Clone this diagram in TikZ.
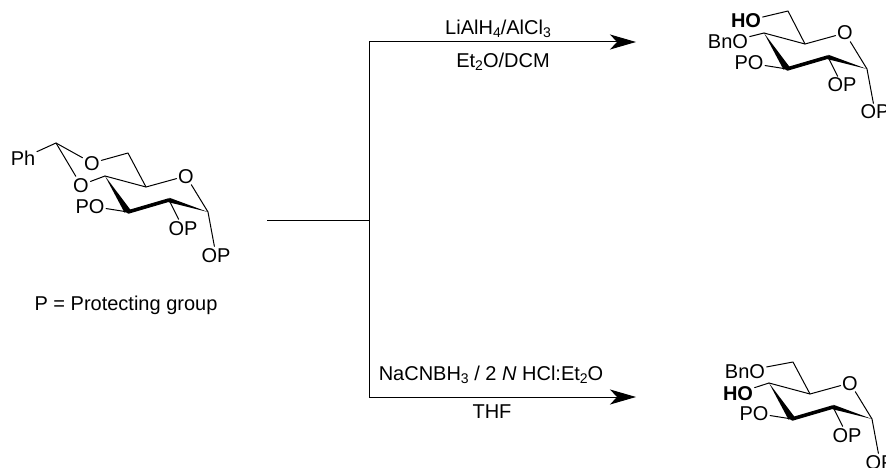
\documentclass[tikz,border=0pt]{standalone}
\usepackage{fontspec}
\setmainfont{Liberation Sans}
\usetikzlibrary{arrows.meta}
\newcommand{\sbs}[1]{\raisebox{-3.5pt}{\fontsize{14}{14}\selectfont #1}}
\tikzset{
  x=1pt,y=-1pt,
  atom/.style={font=\fontsize{20}{22}\selectfont,inner sep=1.5pt,text height=14pt,text depth=0pt},
  txt/.style={font=\fontsize{20}{24}\selectfont,inner sep=0pt},
  bond/.style={line width=1pt,line cap=round,line join=round},
  wedge/.style={fill=black,draw=black,line width=0.3pt,line join=round},
  rxn/.style={line width=1pt},
  rxnarrow/.style={line width=1pt,-{Stealth[length=26pt,width=15pt,inset=7pt]}},
  pics/ring/.style={code={
    \coordinate (-c4) at (0,0);
    \coordinate (-c5) at (41,11);
    \node[atom] (-o) at (81,0) {O};
    \coordinate (-c1) at (103,36);
    \coordinate (-c2) at (64,24);
    \coordinate (-c3) at (23,36);
    \node[atom] (-po) at (-15,30) {PO};
    \node[atom] (-op) at (78,52) {OP};
    \node[atom] (-opa) at (111,79) {OP};
    \draw[bond] (-c4) -- (-c5) -- (-o) -- (-c1) -- (-opa);
    \draw[bond] (-c2) -- (-op);
    \draw[bond] (-c3) -- (-po);
    \fill[black] (-c4) -- ($(-c3)+(-3.5,0.6)$) -- ($(-c3)+(3,-1.5)$) -- cycle;
    \draw[line width=3.6pt,line cap=round] (-c3) -- (-c2);
    \fill[black] ($(-c2)+(0.5,-2.2)$) -- (-c1) -- ($(-c2)+(-0.5,2.2)$) -- cycle;
  }}
}
\usetikzlibrary{calc}
\begin{document}
\begin{tikzpicture}
\useasboundingbox (0,0) rectangle (886,468);
\clip (0,0) rectangle (886,468);
% starting material
\pic (a) at (105,176) {ring};
\coordinate (acc) at (56,143);
\coordinate (ach) at (128,153);
\node[atom] (aph) at (23,158) {Ph};
\node[atom] (ao1) at (92,163) {O};
\node[atom] (ao2) at (81,185) {O};
\draw[bond] (aph) -- (acc) -- (ao1) -- (ach) -- (a-c5);
\draw[bond] (acc) -- (ao2) -- (a-c4);
\node[txt] (plabel) at (126,305) {P = Protecting group};
% upper product
\pic (b) at (764,33) {ring};
\coordinate (bch) at (788,11);
\node[atom,font=\fontsize{20}{22}\selectfont\bfseries] (bho) at (746,21) {HO};
\node[atom] (bbn) at (728,42) {BnO};
\draw[bond] (bho) -- (bch) -- (b-c5);
\draw[bond] (bbn) -- (b-c4);
% lower product
\pic (c) at (769,383) {ring};
\coordinate (cch) at (793,362);
\node[atom] (cbn) at (745,371) {BnO};
\node[atom,font=\fontsize{20}{22}\selectfont\bfseries] (cho) at (738,393) {HO};
\draw[bond] (cbn) -- (cch) -- (c-c5);
\draw[bond] (cho) -- (c-c4);
% reaction scheme
\coordinate (start) at (267,220);
\coordinate (mid) at (369,220);
\coordinate (top) at (369,42);
\coordinate (bot) at (369,397);
\coordinate (toptip) at (636,42);
\coordinate (bottip) at (636,397);
\draw[rxn] (start) -- (mid);
\draw[rxn] (top) -- (bot);
\draw[rxnarrow] (top) -- (toptip);
\draw[rxnarrow] (bot) -- (bottip);
\node[txt] (r1) at (498,29) {LiAlH\sbs{4}/AlCl\sbs{3}};
\node[txt] (r2) at (503,62) {Et\sbs{2}O/DCM};
\node[txt] (r3) at (491,375) {NaCNBH\sbs{3} / 2 \textit{N} HCl:Et\sbs{2}O};
\node[txt] (r4) at (492,412) {THF};
\end{tikzpicture}
\end{document}
